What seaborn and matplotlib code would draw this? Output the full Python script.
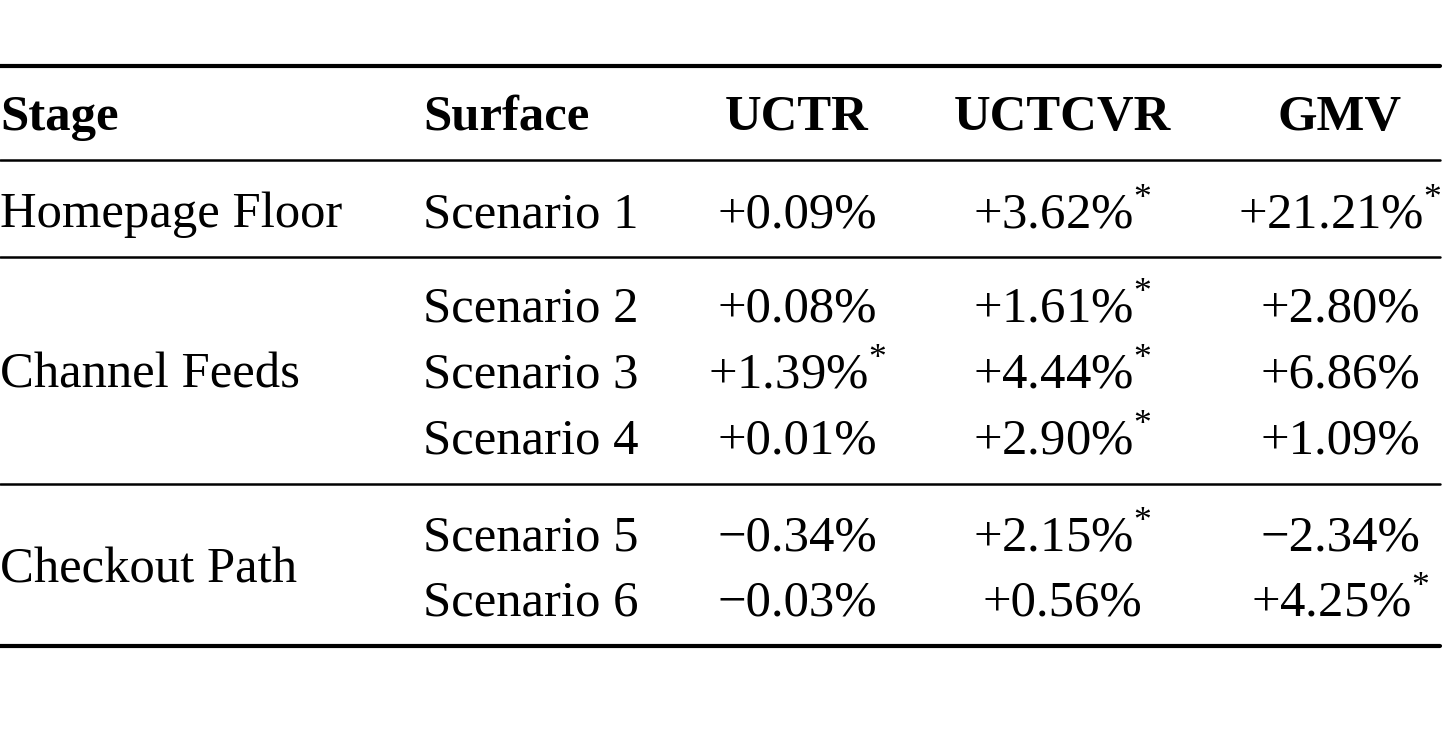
import matplotlib
matplotlib.use("Agg")
import matplotlib.pyplot as plt
import seaborn as sns

sns.set_theme(style="white")
plt.rcParams['font.family'] = ['Liberation Serif', 'DejaVu Serif']
plt.rcParams['mathtext.fontset'] = 'custom'
plt.rcParams['mathtext.rm'] = 'Liberation Serif'
plt.rcParams['text.color'] = 'black'

headers = ["Stage", "Surface", "UCTR", "UCTCVR", "GMV"]
stages = ["Homepage Floor", "Channel Feeds", "Checkout Path"]
stage_rows = [[0], [1, 2, 3], [4, 5]]
surfaces = ["Scenario 1", "Scenario 2", "Scenario 3", "Scenario 4", "Scenario 5", "Scenario 6"]
uctr = ["+0.09%", "+0.08%", "+1.39%", "+0.01%", "\u22120.34%", "\u22120.03%"]
uctr_sig = [False, False, True, False, False, False]
uctcvr = ["+3.62%", "+1.61%", "+4.44%", "+2.90%", "+2.15%", "+0.56%"]
uctcvr_sig = [True, True, True, True, True, False]
gmv = ["+21.21%", "+2.80%", "+6.86%", "+1.09%", "\u22122.34%", "+4.25%"]
gmv_sig = [True, False, False, False, False, True]

fig = plt.figure(figsize=(14.52, 7.32), dpi=100)
ax = fig.add_axes([0, 0, 1, 1])
ax.set_xlim(0, 1452)
ax.set_ylim(732, 0)
ax.axis("off")

fs = 36.5
row_y = [215, 309, 375, 441, 538, 603]
col_x = [0, 423, 797, 1062, 1340]

ax.plot([0, 1440], [66, 66], color="black", lw=3)
ax.plot([0, 1440], [160, 160], color="black", lw=1.8)
ax.plot([0, 1440], [257, 257], color="black", lw=1.8)
ax.plot([0, 1440], [484, 484], color="black", lw=1.8)
ax.plot([0, 1440], [646, 646], color="black", lw=3)

for i, h in enumerate(headers):
    ax.text(col_x[i], 118, h, fontsize=fs, fontweight="bold", color="black",
            ha="left" if i < 2 else "center", va="center")

for s, rows in zip(stages, stage_rows):
    y = sum(row_y[r] for r in rows) / len(rows)
    ax.text(0, y, s, fontsize=fs, ha="left", va="center", color="black")

def val(v, sig):
    return v + (r"$^{*}$" if sig else "")

for r in range(len(surfaces)):
    y = row_y[r]
    ax.text(col_x[1], y, surfaces[r], fontsize=fs, ha="left", va="center", color="black")
    ax.text(col_x[2], y, val(uctr[r], uctr_sig[r]), fontsize=fs, ha="center", va="center", color="black")
    ax.text(col_x[3], y, val(uctcvr[r], uctcvr_sig[r]), fontsize=fs, ha="center", va="center", color="black")
    ax.text(col_x[4], y, val(gmv[r], gmv_sig[r]), fontsize=fs, ha="center", va="center", color="black")

fig.savefig("out.png", dpi=100, facecolor="white")
